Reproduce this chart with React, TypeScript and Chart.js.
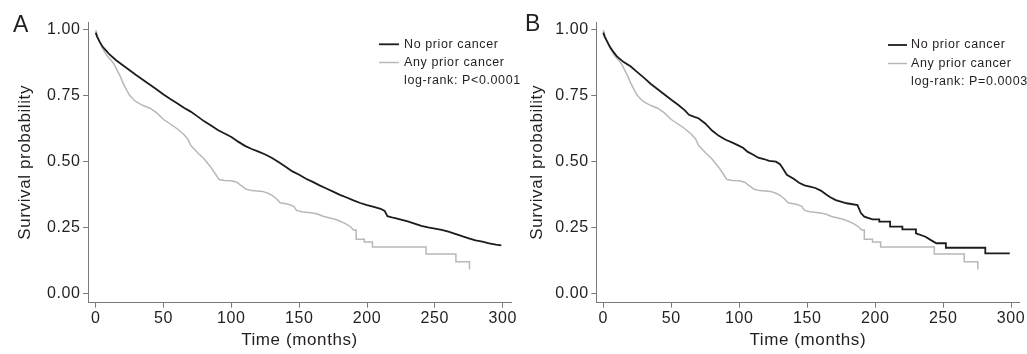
import React, { useEffect, useRef } from "react";
import { Chart, registerables } from "chart.js";

Chart.register(...registerables);

// ---------- data ----------
const xTicks = [0, 50, 100, 150, 200, 250, 300];
const yTicks = [0, 0.25, 0.5, 0.75, 1];
const seriesLabels = ["No prior cancer", "Any prior cancer"];
const pValueA = "log-rank: P<0.0001";
const pValueB = "log-rank: P=0.0003";

// Panel A, no prior cancer
const noPriorA_t = [0, 1, 3, 5, 8, 10, 15, 20, 25, 30, 35, 40, 45, 50, 55, 60, 65, 70, 75, 80, 85, 90, 95, 100, 105, 110, 115, 120, 125, 130, 135, 140, 145, 150, 155, 160, 165, 170, 175, 180, 185, 190, 195, 200, 205, 210, 213, 215, 220, 225, 230, 235, 240, 245, 250, 255, 260, 265, 270, 275, 280, 285, 290, 295, 299];
const noPriorA_s = [0.99, 0.975, 0.955, 0.937, 0.92, 0.908, 0.885, 0.866, 0.847, 0.828, 0.81, 0.792, 0.774, 0.755, 0.738, 0.722, 0.705, 0.69, 0.672, 0.653, 0.637, 0.62, 0.607, 0.594, 0.576, 0.56, 0.548, 0.538, 0.527, 0.514, 0.498, 0.481, 0.463, 0.45, 0.435, 0.423, 0.41, 0.398, 0.386, 0.374, 0.364, 0.353, 0.343, 0.335, 0.328, 0.321, 0.313, 0.293, 0.286, 0.28, 0.273, 0.265, 0.256, 0.25, 0.246, 0.241, 0.234, 0.226, 0.217, 0.209, 0.201, 0.196, 0.19, 0.185, 0.182];

// Any prior cancer (same curve in both panels)
const anyPrior_t = [0, 2, 5, 8, 10, 13, 15, 18, 20, 23, 25, 28, 30, 35, 40, 45, 50, 55, 60, 65, 68, 70, 75, 80, 85, 88, 91, 95, 100, 104, 107, 111, 115, 123, 127, 130, 133, 136, 142, 146, 148, 152, 160, 164, 168, 172, 177, 181, 185, 188, 190, 192, 192, 198, 198, 204, 204, 243.5, 243.5, 265.5, 265.5, 275.5, 275.5];
const anyPrior_s = [1.0, 0.965, 0.93, 0.905, 0.893, 0.875, 0.855, 0.825, 0.8, 0.77, 0.752, 0.735, 0.727, 0.713, 0.703, 0.685, 0.66, 0.643, 0.625, 0.603, 0.585, 0.562, 0.535, 0.51, 0.478, 0.455, 0.432, 0.428, 0.427, 0.422, 0.41, 0.395, 0.39, 0.387, 0.38, 0.372, 0.36, 0.344, 0.338, 0.33, 0.315, 0.31, 0.305, 0.3, 0.292, 0.287, 0.28, 0.272, 0.262, 0.252, 0.24, 0.24, 0.205, 0.205, 0.195, 0.195, 0.176, 0.176, 0.149, 0.149, 0.12, 0.12, 0.09];

// Panel B, no prior cancer
const noPriorB_t = [0, 1, 3, 5, 8, 10, 15, 20, 25, 30, 35, 40, 45, 50, 55, 60, 63, 67, 70, 75, 80, 85, 90, 95, 100, 103, 106, 110, 114, 118, 122, 127, 130, 132, 135, 140, 144, 148, 152, 156, 160, 164, 167, 171, 179, 187, 189.5, 192, 198, 203, 203, 211, 211, 220, 220, 230, 230, 237, 241, 245, 252, 252, 281, 281, 299];
const noPriorB_s = [0.99, 0.975, 0.955, 0.935, 0.913, 0.9, 0.878, 0.862, 0.84, 0.818, 0.795, 0.775, 0.755, 0.735, 0.716, 0.695, 0.678, 0.67, 0.665, 0.645, 0.618, 0.598, 0.583, 0.572, 0.56, 0.552, 0.538, 0.527, 0.515, 0.51, 0.503, 0.5, 0.49, 0.475, 0.45, 0.435, 0.42, 0.41, 0.405, 0.4, 0.39, 0.375, 0.365, 0.354, 0.342, 0.335, 0.305, 0.291, 0.281, 0.281, 0.272, 0.272, 0.253, 0.253, 0.243, 0.243, 0.228, 0.215, 0.202, 0.19, 0.19, 0.173, 0.173, 0.152, 0.152];

// ---------- style ----------
const FONT = '"Liberation Sans", Arial, Helvetica, sans-serif';
const TEXT = "#231f20";
const AXIS = "#7a7a7a";
const BLACK = "#1c1c1c";
const GRAY = "#b8b8b8";
const LS = "0.6px";

const toPoints = (t: number[], s: number[]) => t.map((x, i) => ({ x, y: s[i] }));

const decorPlugin = {
  id: "decor",
  beforeUpdate(chart: any) {
    chart.ctx.letterSpacing = LS;
  },
  beforeDraw(chart: any) {
    chart.ctx.letterSpacing = LS;
  },
  afterDraw(chart: any, _args: any, o: any) {
    const ctx = chart.ctx;
    ctx.save();
    ctx.letterSpacing = LS;
    ctx.fillStyle = TEXT;
    ctx.textAlign = "left";
    ctx.textBaseline = "alphabetic";
    ctx.font = `23px ${FONT}`;
    ctx.fillText(o.letter, o.letterX, o.letterY);
    ctx.font = `12.5px ${FONT}`;
    ctx.textBaseline = "middle";
    chart.data.datasets.forEach((ds: any, i: number) => {
      const y = o.legendY[i];
      ctx.strokeStyle = ds.borderColor;
      ctx.lineWidth = ds.borderWidth;
      ctx.beginPath();
      ctx.moveTo(o.lineX0, y);
      ctx.lineTo(o.lineX1, y);
      ctx.stroke();
      ctx.fillStyle = TEXT;
      ctx.fillText(ds.label, o.textX, y);
    });
    ctx.fillText(o.note, o.textX, o.legendY[2]);
    ctx.restore();
  },
};

type PanelSpec = {
  canvasLeft: number;
  canvasWidth: number;
  axisLeft: number; // page px of y-axis line
  axisRight: number; // page px of x-axis right end
  zeroPx: number; // page px of x = 0
  maxPx: number; // page px of x = 300
  yTitleCenter: number;
  letter: string;
  letterX: number;
  letterY: number;
  lineX0: number;
  lineX1: number;
  textX: number;
  legendY: number[];
  note: string;
  black: { x: number; y: number }[];
  gray: { x: number; y: number }[];
};

const H = 354;
const TOP = 22; // y-axis top
const BOTTOM = 302.7; // x-axis line
const Y1 = 30; // px of 1.00
const Y0 = 293.3; // px of 0.00

function Panel({ spec }: { spec: PanelSpec }) {
  const ref = useRef<HTMLCanvasElement>(null);
  useEffect(() => {
    const s = spec;
    const unitX = (s.maxPx - s.zeroPx) / 300;
    const xmin = -(s.zeroPx - s.axisLeft) / unitX;
    const xmax = 300 + (s.axisRight - s.maxPx) / unitX;
    const unitY = Y0 - Y1;
    const ymax = 1 + (Y1 - TOP) / unitY;
    const ymin = -(BOTTOM - Y0) / unitY;
    const yWidth = s.axisLeft - s.canvasLeft;
    const padRight = s.canvasLeft + s.canvasWidth - s.axisRight;
    const xHeight = H - BOTTOM;
    const yTitlePad = s.yTitleCenter - s.canvasLeft - (17 * 1.2) / 2;

    const chart = new Chart(ref.current as HTMLCanvasElement, {
      type: "line",
      data: {
        datasets: [
          {
            label: seriesLabels[0],
            data: s.black,
            borderColor: BLACK,
            borderWidth: 1.8,
            pointRadius: 0,
            tension: 0,
            fill: false,
          },
          {
            label: seriesLabels[1],
            data: s.gray,
            borderColor: GRAY,
            borderWidth: 1.5,
            pointRadius: 0,
            tension: 0,
            fill: false,
          },
        ],
      },
      options: {
        responsive: false,
        animation: false,
        devicePixelRatio: 1,
        layout: { padding: { left: 0, right: padRight, top: TOP, bottom: 0 } },
        plugins: {
          legend: { display: false },
          tooltip: { enabled: false },
          decor: {
            letter: s.letter,
            letterX: s.letterX - s.canvasLeft,
            letterY: s.letterY,
            lineX0: s.lineX0 - s.canvasLeft,
            lineX1: s.lineX1 - s.canvasLeft,
            textX: s.textX - s.canvasLeft,
            legendY: s.legendY,
            note: s.note,
          },
        } as any,
        scales: {
          x: {
            type: "linear",
            min: xmin,
            max: xmax,
            afterBuildTicks: (sc: any) => {
              sc.ticks = xTicks.map((v) => ({ value: v }));
            },
            afterFit: (sc: any) => {
              sc.height = xHeight;
            },
            ticks: {
              autoSkip: false,
              maxRotation: 0,
              padding: 1.5,
              color: TEXT,
              font: { family: FONT, size: 16 },
              callback: (v: any) => String(v),
            },
            grid: { drawOnChartArea: false, drawTicks: true, tickLength: 5, color: AXIS, lineWidth: 1 },
            border: { display: true, color: AXIS, width: 1 },
            title: {
              display: true,
              text: "Time (months)",
              color: TEXT,
              font: { family: FONT, size: 17 },
              padding: { top: 0, bottom: 3.3 },
            },
          },
          y: {
            type: "linear",
            min: ymin,
            max: ymax,
            afterBuildTicks: (sc: any) => {
              sc.ticks = yTicks.map((v) => ({ value: v }));
            },
            afterFit: (sc: any) => {
              sc.width = yWidth;
            },
            ticks: {
              autoSkip: false,
              padding: 2.5,
              color: TEXT,
              font: { family: FONT, size: 16 },
              callback: (v: any) => Number(v).toFixed(2),
            },
            grid: { drawOnChartArea: false, drawTicks: true, tickLength: 5, color: AXIS, lineWidth: 1 },
            border: { display: true, color: AXIS, width: 1 },
            title: {
              display: true,
              text: "Survival probability",
              color: TEXT,
              font: { family: FONT, size: 17 },
              padding: { top: yTitlePad, bottom: 0 },
            },
          },
        },
      },
      plugins: [decorPlugin as any],
    });
    return () => chart.destroy();
  }, [spec]);

  return (
    <canvas
      ref={ref}
      width={spec.canvasWidth}
      height={H}
      style={{ position: "absolute", left: spec.canvasLeft, top: 0 }}
    />
  );
}

const panelA: PanelSpec = {
  canvasLeft: 0,
  canvasWidth: 530,
  axisLeft: 88,
  axisRight: 511,
  zeroPx: 95.7,
  maxPx: 502.7,
  yTitleCenter: 25.8,
  letter: "A",
  letterX: 13,
  letterY: 31.5,
  lineX0: 379,
  lineX1: 399,
  textX: 404,
  legendY: [44.3, 62.5, 81],
  note: pValueA,
  black: toPoints(noPriorA_t, noPriorA_s),
  gray: toPoints(anyPrior_t, anyPrior_s),
};

const panelB: PanelSpec = {
  canvasLeft: 500,
  canvasWidth: 527,
  axisLeft: 596.3,
  axisRight: 1020.3,
  zeroPx: 603.3,
  maxPx: 1012,
  yTitleCenter: 537.8,
  letter: "B",
  letterX: 525,
  letterY: 31,
  lineX0: 888,
  lineX1: 907,
  textX: 911,
  legendY: [45, 63.5, 82],
  note: pValueB,
  black: toPoints(noPriorB_t, noPriorB_s),
  gray: toPoints(anyPrior_t, anyPrior_s),
};

export default function App() {
  return (
    <div style={{ position: "absolute", left: 0, top: 0, width: 1027, height: H, background: "#fff" }}>
      <Panel spec={panelA} />
      <Panel spec={panelB} />
    </div>
  );
}
